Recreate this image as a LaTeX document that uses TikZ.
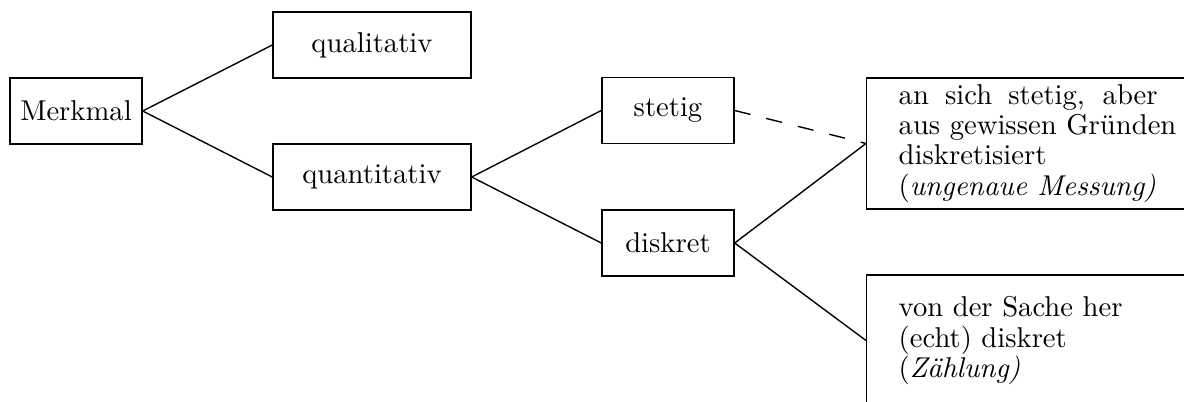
\documentclass[tikz,border=0pt]{standalone}
\usepackage{fontspec}
\setmainfont{lmroman10-regular.otf}[ItalicFont=lmroman10-italic.otf, BoldFont=lmroman10-bold.otf]
\begin{document}
\begin{tikzpicture}[
  every node/.style={font=\fontsize{12.35}{13.0}\selectfont},
  box/.style={draw, line width=0.6pt, rectangle, minimum height=1cm, inner sep=0pt},
  bigbox/.style={draw, line width=0.6pt, rectangle, minimum height=1.98cm, inner xsep=0.485cm, inner ysep=0pt, text width=3.924cm, anchor=west},
  conn/.style={line width=0.6pt},
  dconn/.style={line width=0.6pt, dash pattern=on 7pt off 7pt}
]
\clip (0,0) rectangle (17.939,-6.076);
\node[box, minimum width=2cm] (merkmal) at (1.1515,-1.682) {Merkmal};
\node[box, minimum width=3cm] (quali) at (5.636,-0.682) {qualitativ};
\node[box, minimum width=3cm] (quanti) at (5.636,-2.682) {quantitativ};
\node[box, minimum width=2cm] (stetig) at (10.121,-1.674) {stetig};
\node[box, minimum width=2cm] (diskret) at (10.121,-3.682) {diskret};
\node[bigbox, align=justify] (upper) at (13.121,-2.174) {an sich stetig, aber\linebreak \mbox{aus gewissen Gründen}\newline diskretisiert\newline (\textit{ungenaue Messung)}};
\node[bigbox, align=left] (lower) at (13.121,-5.159) {von der Sache her\\ (echt) diskret\\ (\textit{Zählung)}};
\draw[conn] (merkmal.east) -- (quali.west);
\draw[conn] (merkmal.east) -- (quanti.west);
\draw[conn] (quanti.east) -- (stetig.west);
\draw[conn] (quanti.east) -- (diskret.west);
\draw[dconn] (stetig.east) -- (upper.west);
\draw[conn] (diskret.east) -- (upper.west);
\draw[conn] (diskret.east) -- (lower.west);
\end{tikzpicture}
\end{document}
